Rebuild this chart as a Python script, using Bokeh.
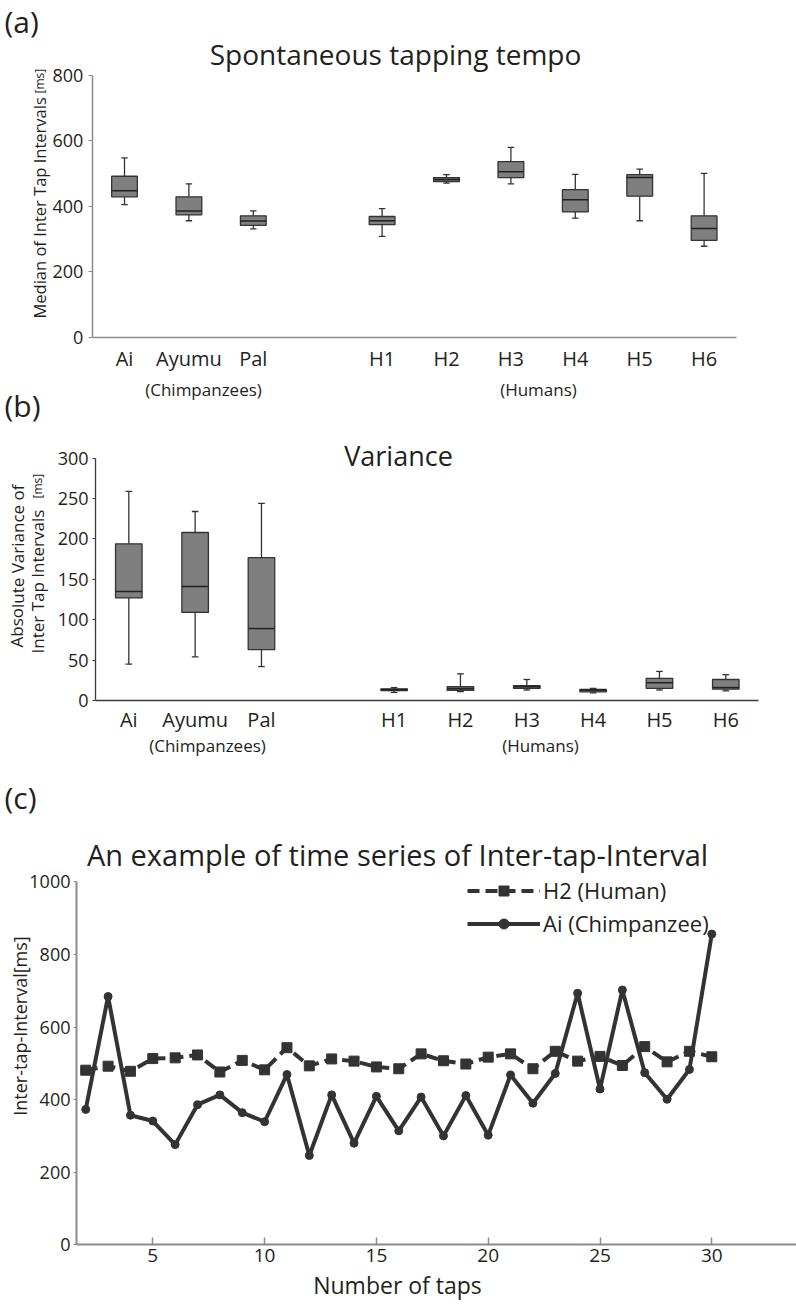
from bokeh.plotting import figure
from bokeh.models import Label, FixedTicker, Legend, LegendItem, Range1d, ColumnDataSource, LinearAxis
from bokeh.layouts import column
from bokeh.embed import file_html
from bokeh.resources import INLINE

# ---------------- data ----------------
categories = ["Ai", "Ayumu", "Pal", "H1", "H2", "H3", "H4", "H5", "H6"]
groups = ["Chimpanzees"] * 3 + ["Humans"] * 6

tempo_low = [405, 356, 331, 308, 471, 469, 364, 356, 278]
tempo_q1 = [429, 374, 342, 344, 476, 488, 383, 431, 296]
tempo_med = [448, 386, 355, 356, 482, 506, 420, 488, 332]
tempo_q3 = [492, 429, 371, 369, 488, 537, 451, 497, 371]
tempo_high = [548, 469, 386, 393, 497, 580, 498, 514, 501]

var_low = [45, 54, 42, 10, 11, 13, 9.5, 13, 12]
var_q1 = [127, 109, 63, 12.4, 12.5, 15, 10.7, 15, 14]
var_med = [135, 141, 89, 13.5, 14.5, 17, 12.8, 22, 16]
var_q3 = [194, 208, 177, 14.5, 17, 18.5, 13.6, 27.5, 26]
var_high = [259, 234, 244, 16, 33, 26, 15, 36, 32]

taps = list(range(2, 31))
h2_iti = [481, 492, 478, 513, 515, 523, 476, 508, 482, 543, 493, 512, 506, 490, 485,
          526, 507, 498, 517, 526, 485, 533, 506, 519, 494, 546, 504, 533, 518]
ai_iti = [373, 684, 357, 341, 276, 386, 413, 364, 339, 469, 246, 413, 280, 409, 314,
          407, 300, 411, 302, 468, 390, 472, 693, 429, 702, 474, 401, 483, 856]

# ---------------- style ----------------
FONT = "Open Sans"
TXT = "#231f20"
DARK = "#333333"
BOX_FILL = "#7f7f7f"
W = 796
ROT = 1.5707963

# category positions: chimpanzees, a gap, then humans
positions = []
for i, g in enumerate(groups):
    positions.append(i + 1 + (1 if g == "Humans" else 0))


def panel_fig(page_top, h, xmap, ymap):
    xa, pxa, xb, pxb = xmap
    sx = (pxb - pxa) / (xb - xa)
    x_start = xa - pxa / sx
    x_end = xa + (W - pxa) / sx
    ya, pya, yb, pyb = ymap
    sy = (pya - pyb) / (yb - ya)
    y_start = ya - (page_top + h - pya) / sy
    y_end = ya + (pya - page_top) / sy
    p = figure(width=W, height=h, output_backend="svg", toolbar_location=None,
               x_range=Range1d(x_start, x_end), y_range=Range1d(y_start, y_end),
               x_axis_location=None, y_axis_location=None,
               min_border=0, min_border_left=0, min_border_right=0,
               min_border_top=0, min_border_bottom=0)
    p.title.visible = False
    p.outline_line_color = None
    p.xgrid.visible = False
    p.ygrid.visible = False
    p.background_fill_color = "white"
    p.border_fill_color = "white"
    fx = lambda X: x_start + X / sx
    fy = lambda Y: y_end - (Y - page_top) / sy
    return p, (fx, fy)


def add_axes(p, x_loc, x_bounds, y_loc, y_bounds, color, lw, xticks, yticks,
             ytick_out, ystand, xstand, ysize, xsize, overrides=None):
    xa = LinearAxis(fixed_location=x_loc, bounds=x_bounds, ticker=FixedTicker(ticks=xticks))
    ya = LinearAxis(fixed_location=y_loc, bounds=y_bounds, ticker=FixedTicker(ticks=yticks))
    for ax in (xa, ya):
        ax.axis_line_color = color
        ax.axis_line_width = lw
        ax.major_tick_line_color = color
        ax.minor_tick_line_color = None
        ax.major_label_text_font = FONT
        ax.major_label_text_color = TXT
    ya.major_tick_out = ytick_out
    ya.major_tick_in = 0
    ya.major_label_standoff = ystand
    ya.major_label_text_font_size = f"{ysize}px"
    xa.major_label_standoff = xstand
    xa.major_label_text_font_size = f"{xsize}px"
    xa.major_tick_out = 0
    xa.major_tick_in = 0
    if overrides:
        xa.major_label_overrides = overrides
    p.add_layout(xa, "below")
    p.add_layout(ya, "left")
    return xa, ya


def txt(p, m, px, py, text, size, align="left", baseline="alphabetic", angle=0):
    fx, fy = m
    p.add_layout(Label(x=fx(px), y=fy(py), text=text, text_font=FONT,
                       text_font_size=f"{size}px", text_align=align,
                       text_baseline=baseline, angle=angle, text_color=TXT))


def boxes(p, low, q1, med, q3, high, bw=0.4, cw=0.1):
    src = ColumnDataSource(dict(
        x=positions, low=low, q1=q1, med=med, q3=q3, high=high,
        cl=[x - cw / 2 for x in positions], cr=[x + cw / 2 for x in positions],
        ml=[x - bw / 2 for x in positions], mr=[x + bw / 2 for x in positions]))
    p.segment(x0="x", y0="q3", x1="x", y1="high", source=src, line_color=DARK, line_width=1.3)
    p.segment(x0="x", y0="low", x1="x", y1="q1", source=src, line_color=DARK, line_width=1.3)
    p.segment(x0="cl", y0="high", x1="cr", y1="high", source=src, line_color=DARK, line_width=1.3)
    p.segment(x0="cl", y0="low", x1="cr", y1="low", source=src, line_color=DARK, line_width=1.3)
    p.vbar(x="x", width=bw, bottom="q1", top="q3", source=src,
           fill_color=BOX_FILL, line_color=DARK, line_width=1.3)
    p.segment(x0="ml", y0="med", x1="mr", y1="med", source=src, line_color="#222222", line_width=1.5)


cat_labels = {pos: c for pos, c in zip(positions, categories)}

# ---------------- panel (a) ----------------
A_top, A_h = 0, 430
pa, mA = panel_fig(A_top, A_h, (1, 124.0, 10, 703.6), (0, 336.7, 800, 75.0))
add_axes(pa, 0, (0.5, 10.5), 0.5, (0, 800), "#8a8a8a", 1.5, positions,
         [0, 200, 400, 600, 800], 4, 5, 8, 18, 20, cat_labels)
boxes(pa, tempo_low, tempo_q1, tempo_med, tempo_q3, tempo_high)
txt(pa, mA, 4, 21, "(a)", 30, baseline="middle")
txt(pa, mA, 395, 53.5, "Spontaneous tapping tempo", 28, align="center")
txt(pa, mA, 38.5, 318, "Median of Inter Tap Intervals", 16.5, angle=ROT)
txt(pa, mA, 38.5, 93, "[ms]", 12, angle=ROT)
txt(pa, mA, 203, 389, "(Chimpanzees)", 17, align="center", baseline="middle")
txt(pa, mA, 538, 389, "(Humans)", 17, align="center", baseline="middle")
txt(pa, mA, 4, 405, "(b)", 30, baseline="middle")

# ---------------- panel (b) ----------------
B_top, B_h = 430, 340
pb, mB = panel_fig(B_top, B_h, (1, 128.3, 10, 725.3), (0, 700.0, 300, 457.7))
add_axes(pb, 0, (0.5, 10.5), 0.5, (0, 300), "#3a3a3a", 1.3, positions,
         [0, 50, 100, 150, 200, 250, 300], 3, 4, 5, 18, 20, cat_labels)
boxes(pb, var_low, var_q1, var_med, var_q3, var_high)
txt(pb, mB, 398, 455, "Variance", 27, align="center")
txt(pb, mB, 16.5, 565.5, "Absolute Variance of", 17, align="center", angle=ROT)
txt(pb, mB, 36.5, 653, "Inter Tap Intervals", 17, angle=ROT)
txt(pb, mB, 36.5, 498, "[ms]", 12, angle=ROT)
txt(pb, mB, 207, 745, "(Chimpanzees)", 17, align="center", baseline="middle")
txt(pb, mB, 540, 745, "(Humans)", 17, align="center", baseline="middle")

# ---------------- panel (c) ----------------
C_top, C_h = 770, 535
pc, mC = panel_fig(C_top, C_h, (5, 152.3, 30, 711.3), (0, 1244.3, 1000, 881.3))
fxC, fyC = mC
xc0 = fxC(76)
xc1 = fxC(796)
xaC, yaC = add_axes(pc, 0, (xc0, xc1), xc0, (0, 1000), "#8a8a8a", 2,
                    [5, 10, 15, 20, 25, 30], [0, 200, 400, 600, 800, 1000],
                    3, 3, 4, 18, 19)
xaC.major_tick_in = 7
xaC.major_tick_line_width = 1.5

r1 = pc.line(taps, h2_iti, line_width=4, line_dash="12 6", line_color=DARK)
r2 = pc.scatter(taps, h2_iti, marker="square", size=10, fill_color=DARK, line_color=DARK)
r3 = pc.line(taps, ai_iti, line_width=4, line_color=DARK)
r4 = pc.scatter(taps, ai_iti, marker="circle", size=8, fill_color=DARK, line_color=DARK)

legend = Legend(items=[LegendItem(label="H2 (Human)", renderers=[r1, r2]),
                       LegendItem(label="Ai (Chimpanzee)", renderers=[r3, r4])],
                location=(467, 367), glyph_width=73, glyph_height=25, label_height=25,
                label_standoff=3, spacing=3, padding=0, margin=0,
                border_line_color=None, background_fill_alpha=0,
                label_text_font=FONT, label_text_font_size="22px", label_text_color=TXT)
pc.add_layout(legend)

txt(pc, mC, 4, 797, "(c)", 30, baseline="middle")
txt(pc, mC, 397, 854, "An example of time series of Inter-tap-Interval", 29, align="center")
txt(pc, mC, 19.5, 1025.5, "Inter-tap-Interval[ms]", 18, align="center", baseline="middle", angle=ROT)
txt(pc, mC, 397, 1284, "Number of taps", 23, align="center", baseline="middle")

layout = column(pa, pb, pc, spacing=0)
open("out.html", "w").write(file_html(layout, INLINE))
